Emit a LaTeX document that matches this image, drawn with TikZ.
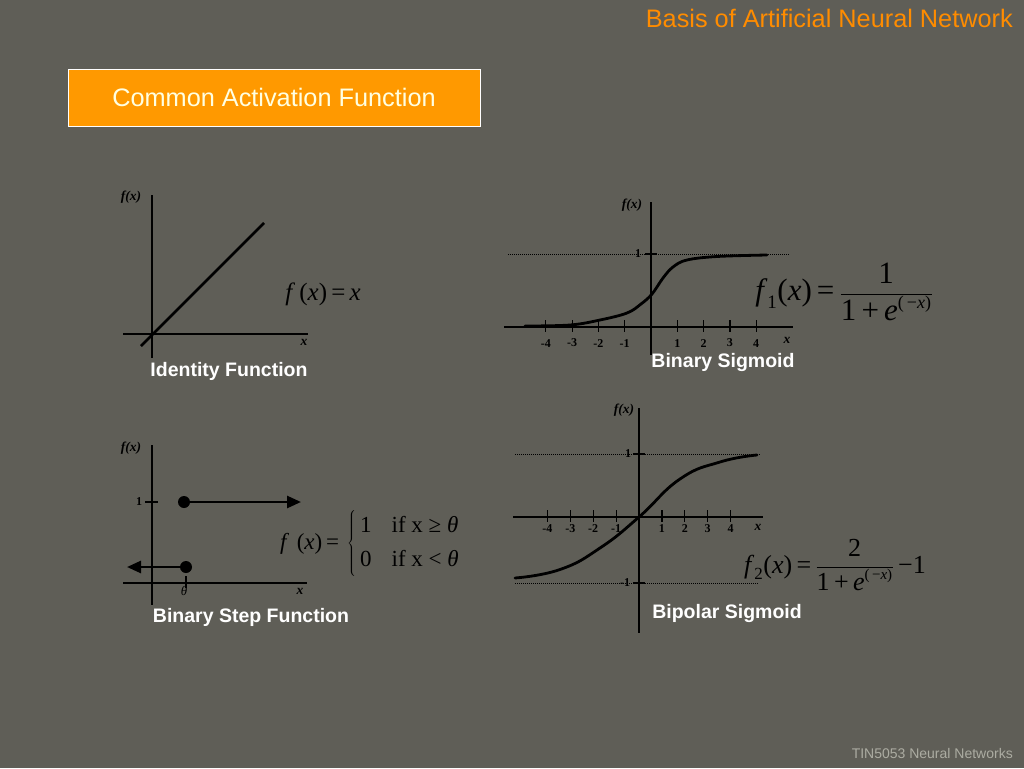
\documentclass[tikz,border=0pt]{standalone}
\usepackage{fontspec}
\setmainfont{Liberation Sans}
\newfontfamily\tms{Liberation Serif}
\usetikzlibrary{arrows.meta}
\definecolor{bg}{RGB}{95,94,87}
\definecolor{hdr}{RGB}{255,140,0}
\definecolor{boxor}{RGB}{255,153,0}
\definecolor{cream}{RGB}{255,255,225}
\definecolor{foot}{RGB}{172,172,162}
\tikzset{
  axis/.style={line width=1.6pt, black},
  curve/.style={line width=2.8pt, black, line cap=round},
  guide/.style={line width=1pt, black, dash pattern=on 1pt off 1pt},
  tickmark/.style={line width=1.2pt, black},
  axlab/.style={font=\tms\bfseries\itshape\fontsize{13.5}{15}\selectfont, inner sep=0pt},
  ticklab/.style={font=\tms\bfseries\fontsize{12}{14}\selectfont, inner sep=0pt},
  caption/.style={font=\bfseries\fontsize{19.5}{22}\selectfont, text=white, inner sep=0pt},
  formula/.style={inner sep=0pt, black},
  dot/.style={circle, fill=black, minimum size=12pt, inner sep=0pt},
}
\begin{document}
\begin{tikzpicture}[x=1pt,y=-1pt]
\fill[bg] (0,0) rectangle (1024,768);
\useasboundingbox (0,0) rectangle (1024,768);

% header
\node[anchor=base east, text=hdr, font=\fontsize{25.3}{28}\selectfont, inner sep=0pt] (title) at (1013,28) {Basis of Artificial Neural Network};
\node[draw=white, fill=boxor, line width=1pt, minimum width=412pt, minimum height=57pt, text=cream, font=\fontsize{25.3}{28}\selectfont] (sub) at (274,97.5) {Common Activation Function};
\node[anchor=base east, text=foot, font=\fontsize{14}{16}\selectfont, inner sep=0pt] (footer) at (1013,758) {TIN5053 Neural Networks};

% ---------- Identity ----------
\coordinate (iy0) at (152,195); \coordinate (iy1) at (152,358);
\coordinate (ix0) at (123,334); \coordinate (ix1) at (308,334);
\draw[axis] (iy0) -- (iy1);
\draw[axis] (ix0) -- (ix1);
\coordinate (il0) at (141,346); \coordinate (il1) at (264,223);
\draw[curve, line cap=butt] (il0) -- (il1);
\node[axlab] (ify) at (131,197) {f(x)};
\node[axlab] (ixl) at (304,342) {x};
\node[formula, font=\tms\fontsize{25}{28}\selectfont] (iform) at (323,294) {\textit{f}\,(\textit{x})\,=\,\textit{x}};
\node[caption] (icap) at (229,371) {Identity Function};

% ---------- Binary sigmoid ----------
\coordinate (by0) at (651,202); \coordinate (by1) at (651,355);
\coordinate (bx0) at (504,327); \coordinate (bx1) at (793,327);
\draw[axis] (by0) -- (by1);
\draw[axis] (bx0) -- (bx1);
\coordinate (bg0) at (508,254); \coordinate (bg1) at (790,254);
\draw[guide] (bg0) -- (bg1);
\coordinate (bt0) at (645,254); \coordinate (bt1) at (657,254);
\draw[tickmark] (bt0) -- (bt1);
\node[ticklab] (bone) at (638,254) {1};
\begin{scope}[shift={(651,327)}, x=26.3pt, y=73pt]
  \foreach \k in {-4,-3,-2,-1,1,2,3,4}{
    \draw[tickmark] (\k,0.09) -- (\k,-0.07);
    \node[ticklab] (bl\k) at (\k,-0.22) {\k};
  }
\end{scope}
\draw[curve] plot[smooth, tension=0.6] coordinates {(525,326) (570,325) (600,320) (627,313) (641,304) (652,294) (663,278) (673,267) (687,260) (717,256.5) (767,255)};
\node[axlab] (bfy) at (632,205) {f(x)};
\node[axlab] (bxl) at (787,340) {x};
\node[formula, font=\tms\fontsize{31}{34}\selectfont] (bform) at (844,292)
  {$\hbox{\textit{f}}_{\hbox{\fontsize{19}{21}\selectfont 1}}\hbox{(\textit{x})\,=\,}\displaystyle\frac{\hbox{1}}{\hbox{1\,+\,\textit{e}}^{\hbox{\fontsize{18}{20}\selectfont(\,−\textit{x})}}}$};
\node[caption] (bcap) at (723,362) {Binary Sigmoid};

% ---------- Binary step ----------
\coordinate (sy0) at (152,445); \coordinate (sy1) at (152,605);
\coordinate (sx0) at (123,583); \coordinate (sx1) at (307,583);
\draw[axis] (sy0) -- (sy1);
\draw[axis] (sx0) -- (sx1);
\coordinate (st0) at (145,502); \coordinate (st1) at (158,502);
\draw[tickmark] (st0) -- (st1);
\node[ticklab] (sone) at (139,502) {1};
\node[dot] (sd1) at (184,502) {};
\coordinate (sa1) at (301,502);
\draw[line width=2.6pt, -{Triangle[length=14pt,width=12pt]}] (sd1.center) -- (sa1);
\node[dot] (sd0) at (186,567) {};
\coordinate (sa0) at (127,567);
\draw[line width=2.6pt, -{Triangle[length=14pt,width=12pt]}] (sd0.center) -- (sa0);
\coordinate (sth0) at (186,576); \coordinate (sth1) at (186,588);
\draw[tickmark] (sth0) -- (sth1);
\node[axlab, font=\tms\itshape\fontsize{13}{14}\selectfont] (sth) at (184,591) {θ};
\node[axlab] (sfy) at (131,448) {f(x)};
\node[axlab] (sxl) at (300,591) {x};
\node[formula, font=\tms\fontsize{23}{26}\selectfont] (sform) at (370,543)
  {$\hbox{\textit{f}\,\,(\textit{x})\,=\,}\left\{\def\arraystretch{1.3}\,\begin{tabular}{@{}l@{\hspace{20pt}}l@{}}1 & if x ≥ \textit{θ}\\ 0 & if x < \textit{θ}\end{tabular}\right.$};
\node[caption] (scap) at (251,617) {Binary Step Function};

% ---------- Bipolar sigmoid ----------
\coordinate (py0) at (639,408); \coordinate (py1) at (639,633);
\coordinate (px0) at (513,517); \coordinate (px1) at (763,517);
\draw[axis] (py0) -- (py1);
\draw[axis] (px0) -- (px1);
\coordinate (pg0) at (515,454); \coordinate (pg1) at (760,454);
\coordinate (pg2) at (515,583); \coordinate (pg3) at (758,583);
\draw[guide] (pg0) -- (pg1);
\draw[guide] (pg2) -- (pg3);
\coordinate (pt0) at (633,454); \coordinate (pt1) at (645,454);
\coordinate (pt2) at (633,583); \coordinate (pt3) at (645,583);
\draw[tickmark] (pt0) -- (pt1);
\draw[tickmark] (pt2) -- (pt3);
\node[ticklab] (pone) at (628,454) {1};
\node[ticklab] (pmone) at (625,583) {-1};
\begin{scope}[shift={(639,517)}, x=22.9pt, y=63pt]
  \foreach \k in {-4,-3,-2,-1,1,2,3,4}{
    \draw[tickmark] (\k,0.11) -- (\k,-0.08);
    \node[ticklab] (pl\k) at (\k,-0.19) {\k};
  }
\end{scope}
\draw[curve] plot[smooth, tension=0.8] coordinates {(515,578) (560,569.5) (600,548) (639,517) (680,479) (720,462) (757,455)};
\node[axlab] (pfy) at (624,410) {f(x)};
\node[axlab] (pxl) at (758,527) {x};
\node[formula, font=\tms\fontsize{26}{29}\selectfont] (pform) at (835,565)
  {$\hbox{\textit{f}}_{\hbox{\fontsize{17}{19}\selectfont 2}}\hbox{(\textit{x})\,=\,}\displaystyle\frac{\hbox{2}}{\hbox{1\,+\,\textit{e}}^{\hbox{\fontsize{15}{17}\selectfont(\,−\textit{x})}}}\hbox{\,−1}$};
\node[caption] (pcap) at (727,613) {Bipolar Sigmoid};
\end{tikzpicture}
\end{document}
